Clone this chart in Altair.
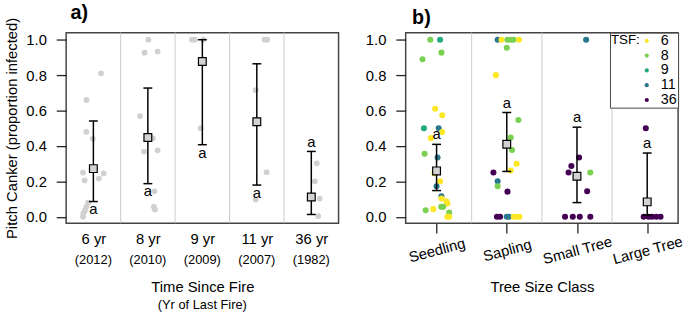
import json
import altair as alt
import pandas as pd

FONT = "Liberation Sans"

# ---------------- Panel a) : time since fire ----------------
tsf_labels = ["6 yr", "8 yr", "9 yr", "11 yr", "36 yr"]
tsf_years = ["(2012)", "(2010)", "(2009)", "(2007)", "(1982)"]
tsf_mean = [0.272, 0.448, 0.877, 0.537, 0.112]
tsf_lo = [0.086, 0.187, 0.407, 0.179, 0.013]
tsf_hi = [0.541, 0.727, 1.0, 0.864, 0.369]
tsf_letter = ["a", "a", "a", "a", "a"]
tsf_letter_above = [False, False, False, False, True]

a_pt_group = [1] * 13 + [2] * 10 + [3] * 4 + [4] * 5 + [5] * 4
a_pt_jitter = [0.14, -0.125, -0.13, -0.01, -0.19, -0.16, 0.19, 0.10, -0.096, -0.13, -0.155, -0.186, -0.19,
               0.01, -0.06, 0.18, -0.145, 0.09, -0.07, 0.18, 0.12, 0.11, 0.13,
               -0.19, -0.14, 0.02, -0.03,
               0.145, 0.19, -0.02, 0.18, -0.02,
               0.10, 0.065, 0.155, 0.125]
a_pt_value = [0.81, 0.66, 0.48, 0.44, 0.25, 0.205, 0.245, 0.216, 0.08, 0.056, 0.034, 0.019, 0.0,
              1.0, 0.927, 0.933, 0.569, 0.444, 0.368, 0.375, 0.144, 0.056, 0.041,
              1.0, 1.0, 1.0, 0.50,
              1.0, 1.0, 0.715, 0.252, 0.097,
              0.302, 0.20, 0.103, 0.004]

# ---------------- Panel b) : tree size class ----------------
size_labels = ["Seedling", "Sapling", "Small Tree", "Large Tree"]
size_mean = [0.259, 0.41, 0.229, 0.084]
size_lo = [0.148, 0.256, 0.08, 0.01]
size_hi = [0.409, 0.589, 0.506, 0.36]
size_letter = ["a", "a", "a", "a"]

tsf_levels = ["6", "8", "9", "11", "36"]
tsf_colors = ["#FDE725", "#7AD151", "#22A884", "#2A788E", "#440154"]

b_pt_group = [1] * 26 + [2] * 24 + [3] * 10 + [4] * 6
b_pt_tsf = ["8", "9", "8", "8", "6", "6", "9", "11", "6", "6", "8", "11", "6", "6", "11", "11", "6", "6", "6",
            "8", "8", "6", "8", "8", "6", "6",
            "11", "6", "8", "8", "8", "6", "8", "6", "8", "8", "8", "6", "6", "36", "11", "8", "36",
            "36", "36", "11", "11", "6", "6", "6",
            "11", "36", "36", "36", "8", "36", "36", "36", "36", "36",
            "36", "36", "36", "36", "36", "36"]
b_pt_jitter = [-0.09, 0.05, 0.07, -0.2, -0.02, 0.08, -0.18, 0.03, 0.08, -0.08, -0.17, 0.014, -0.03, 0.05, 0.0,
               0.07, 0.07, 0.14, 0.155, 0.066, 0.094, -0.047, -0.155, 0.18, 0.155, 0.18,
               -0.13, -0.075, 0.01, 0.056, 0.094, 0.174, 0.0, -0.155, 0.165, 0.056, 0.075, 0.14, 0.056, -0.19,
               -0.13, -0.13, 0.01,
               -0.14, -0.095, 0.0, 0.03, 0.10, 0.15, 0.18,
               0.13, 0.03, -0.08, -0.12, 0.19, 0.145, -0.17, -0.06, 0.04, 0.19,
               -0.02, -0.05, 0.02, 0.07, 0.13, 0.19]
b_pt_value = [1.0, 1.0, 0.927, 0.889, 0.61, 0.573, 0.50, 0.50, 0.479, 0.444, 0.356, 0.335, 0.246, 0.20, 0.172,
              0.116, 0.103, 0.088, 0.075, 0.056, 0.056, 0.043, 0.037, 0.024, 0.0, 0.0,
              1.0, 1.0, 1.0, 1.0, 1.0, 1.0, 0.955, 0.80, 0.547, 0.448, 0.377, 0.299, 0.261, 0.25,
              0.201, 0.172, 0.142,
              0.0, 0.0, 0.0, 0.0, 0.0, 0.0, 0.0,
              1.0, 0.335, 0.287, 0.25, 0.25, 0.144, 0.0, 0.0, 0.0, 0.0,
              0.50, 0.0, 0.0, 0.0, 0.0, 0.0]

# ---------------- tables ----------------
a_pts = pd.DataFrame({"x": [g + j for g, j in zip(a_pt_group, a_pt_jitter)], "y": a_pt_value})
a_sum = pd.DataFrame({"x": list(range(1, len(tsf_labels) + 1)), "mean": tsf_mean, "lo": tsf_lo,
                      "hi": tsf_hi, "letter": tsf_letter, "above": tsf_letter_above, "year": tsf_years})
a_sep = pd.DataFrame({"x": [i + 0.5 for i in range(1, len(tsf_labels))]})

b_pts = pd.DataFrame({"x": [g + j for g, j in zip(b_pt_group, b_pt_jitter)], "y": b_pt_value, "tsf": b_pt_tsf})
b_sum = pd.DataFrame({"x": list(range(1, len(size_labels) + 1)), "mean": size_mean, "lo": size_lo,
                      "hi": size_hi, "letter": size_letter})
b_sep = pd.DataFrame({"x": [i + 0.5 for i in range(1, len(size_labels))]})

W, H = 276, 193
YDOM = [-0.036, 1.04]
yscale = alt.Scale(domain=YDOM, nice=False, zero=False)


def yaxis(title):
    return alt.Axis(values=[0, 0.2, 0.4, 0.6, 0.8, 1.0], format=".1f", tickSize=10, labelPadding=10,
                    title=title, titlePadding=6)


def build_panel(sep, pts, summ, xscale, xax, yax, extra_y_layers, color=None, pt_size=34):
    X = lambda f: alt.X(f, scale=xscale, axis=xax)
    Y = lambda f: alt.Y(f, scale=yscale, axis=yax)
    sep_l = alt.Chart(sep).mark_rule(color="#cccccc", strokeWidth=1).encode(x=X("x:Q"))
    if color is None:
        pts_l = alt.Chart(pts).mark_circle(size=pt_size, color="#d0d0d0", opacity=1).encode(
            x=X("x:Q"), y=Y("y:Q"))
    else:
        pts_l = alt.Chart(pts).mark_circle(size=pt_size, opacity=1).encode(
            x=X("x:Q"), y=Y("y:Q"), color=color)
    rule_l = alt.Chart(summ).mark_rule(color="black", strokeWidth=1.5).encode(
        x=X("x:Q"), y=Y("lo:Q"), y2="hi:Q")
    caplo = alt.Chart(summ).mark_tick(orient="horizontal", size=9, thickness=1.5, color="black",
                                      opacity=1).encode(x=X("x:Q"), y=Y("lo:Q"))
    caphi = alt.Chart(summ).mark_tick(orient="horizontal", size=9, thickness=1.5, color="black",
                                      opacity=1).encode(x=X("x:Q"), y=Y("hi:Q"))
    sq = alt.Chart(summ).mark_square(size=62, fill="#d3d3d3", stroke="black", strokeWidth=1.2,
                                     opacity=1, filled=True).encode(x=X("x:Q"), y=Y("mean:Q"))
    extras = [f(X, Y) for f in extra_y_layers]
    return [sep_l, pts_l, rule_l, caplo, caphi, sq] + extras


# ---- panel a
xs_a = alt.Scale(domain=[0.5, len(tsf_labels) + 0.5], nice=False, zero=False)
xa_axis = alt.Axis(values=list(range(1, len(tsf_labels) + 1)),
                   labelExpr=f"{json.dumps(tsf_labels)}[round(datum.value) - 1]",
                   ticks=False, labelPadding=9, title="Time Since Fire", titlePadding=33,
                   labelAngle=0, labelAlign="center", labelBaseline="top")
ya_axis = yaxis("Pitch Canker (proportion infected)")


def a_let_below(X, Y):
    return alt.Chart(a_sum).transform_filter("!datum.above").mark_text(
        baseline="top", dy=1, fontSize=15, font=FONT, color="black").encode(
        x=X("x:Q"), y=Y("lo:Q"), text="letter:N")


def a_let_above(X, Y):
    return alt.Chart(a_sum).transform_filter("datum.above").mark_text(
        baseline="alphabetic", dy=-5, fontSize=15, font=FONT, color="black").encode(
        x=X("x:Q"), y=Y("hi:Q"), text="letter:N")


def a_years(X, Y):
    return alt.Chart(a_sum).mark_text(baseline="middle", fontSize=13, font=FONT, color="black").encode(
        x=X("x:Q"), y=alt.value(H + 37), text="year:N")


def a_subtitle(X, Y):
    return alt.Chart(pd.DataFrame({"t": ["(Yr of Last Fire)"]})).mark_text(
        baseline="middle", fontSize=13, font=FONT, color="black").encode(
        x=alt.value(W / 2), y=alt.value(H + 83), text="t:N")


layers_a = build_panel(a_sep, a_pts, a_sum, xs_a, xa_axis, ya_axis,
                       [a_let_below, a_let_above, a_years, a_subtitle])
panel_a = alt.layer(*layers_a).properties(
    width=W, height=H,
    title=alt.TitleParams("a)", anchor="start", frame="group", fontSize=20, fontWeight="bold",
                          dx=4.5, offset=-6, font=FONT, color="black"))

# ---- panel b
xs_b = alt.Scale(domain=[0.56, len(size_labels) + 0.44], nice=False, zero=False)
xb_axis = alt.Axis(values=list(range(1, len(size_labels) + 1)),
                   labelExpr=f"{json.dumps(size_labels)}[round(datum.value) - 1]",
                   ticks=True, tickSize=10, labelPadding=17, labelAngle=345,
                   labelAlign="center", labelBaseline="middle", labelOverlap=False, labelBound=False,
                   title="Tree Size Class", titlePadding=13)
yb_axis = yaxis(None)
color_b = alt.Color("tsf:N", scale=alt.Scale(domain=tsf_levels, range=tsf_colors),
                    legend=alt.Legend(title="TSF:", orient="top-right", offset=0, titleOrient="left",
                                      titleAnchor="start", titleAlign="left",
                                      titleFontSize=13.5, titleFontWeight="normal", titleFont=FONT,
                                      titleColor="black", titlePadding=-1, titleBaseline="top",
                                      labelFontSize=14.5, labelFont=FONT, labelColor="black",
                                      labelOffset=7, symbolSize=18, symbolType="circle",
                                      symbolStrokeWidth=0, rowPadding=0, padding=1,
                                      strokeColor="#444", fillColor="white"))


def b_letters(X, Y):
    return alt.Chart(b_sum).mark_text(baseline="alphabetic", dy=-5, fontSize=15, font=FONT,
                                      color="black").encode(x=X("x:Q"), y=Y("hi:Q"), text="letter:N")


layers_b = build_panel(b_sep, b_pts, b_sum, xs_b, xb_axis, yb_axis, [b_letters], color=color_b, pt_size=38)
panel_b = alt.layer(*layers_b).properties(
    width=W, height=H,
    title=alt.TitleParams("b)", anchor="start", frame="group", fontSize=20, fontWeight="bold",
                          dx=6.5, offset=4, font=FONT, color="black"))

chart = alt.hconcat(panel_a, panel_b, spacing=25).resolve_legend(color="independent").configure(
    padding={"left": 4, "top": 0, "right": 0, "bottom": 0}
).configure_view(stroke="#444", strokeWidth=1.5).configure_axis(
    labelFont=FONT, titleFont=FONT, labelFontSize=15, titleFontSize=15, labelColor="black",
    titleColor="black", titleFontWeight="normal", tickColor="#222", tickWidth=1.3, domain=False, grid=False)

chart.save("out.html", embed_options={"renderer": "svg", "actions": False})
